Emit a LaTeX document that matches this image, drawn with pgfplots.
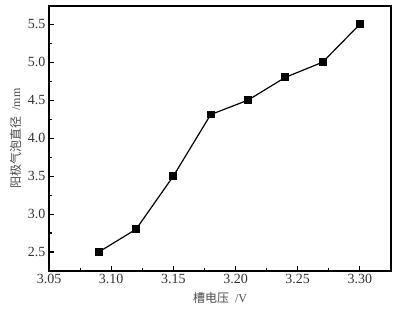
\documentclass[border=0pt]{standalone}
\usepackage{pgfplots}
\pgfplotsset{compat=1.18}
\usepackage{fontspec}
\setmainfont{Liberation Serif}
\newfontfamily\cjk{Noto Sans CJK SC}
\begin{document}
\begin{tikzpicture}
\begin{axis}[
  name=ax,
  scale only axis,
  width=342pt, height=265pt,
  xmin=3.05, xmax=3.325,
  ymin=2.25, ymax=5.74,
  xtick={3.05,3.10,...,3.30},
  ytick={2.5,3.0,...,5.5},
  minor tick num=1,
  tick align=inside,
  xtick pos=bottom, ytick pos=left,
  major tick length=5pt, minor tick length=3pt,
  axis line style={line width=1.3pt},
  every tick/.style={line width=1.1pt, black},
  /pgf/number format/assume math mode=true,
  xticklabel style={/pgf/number format/.cd, fixed, fixed zerofill, precision=2},
  yticklabel style={/pgf/number format/.cd, fixed, fixed zerofill, precision=1},
  tick label style={font=\fontsize{14}{16}\selectfont, text=black!80},
  xlabel={{\cjk 槽电压}\ \ /V},
  ylabel={{\cjk 阳极气泡直径}\ \ /mm},
  label style={font=\fontsize{12}{14}\selectfont, text=black!70},
  xlabel style={yshift=-2pt},
  ylabel style={yshift=0pt},
]
\addplot[black, line width=1.2pt, mark=square*, mark size=3.3pt] coordinates {
(3.09,2.5) (3.12,2.8) (3.15,3.5) (3.18,4.31) (3.21,4.5) (3.24,4.8) (3.27,5.0) (3.30,5.5)
};
\end{axis}
\pgfresetboundingbox
\path ([shift={(-49pt,-42pt)}]ax.south west) rectangle ([shift={(12pt,6pt)}]ax.north east);
\end{tikzpicture}
\end{document}
